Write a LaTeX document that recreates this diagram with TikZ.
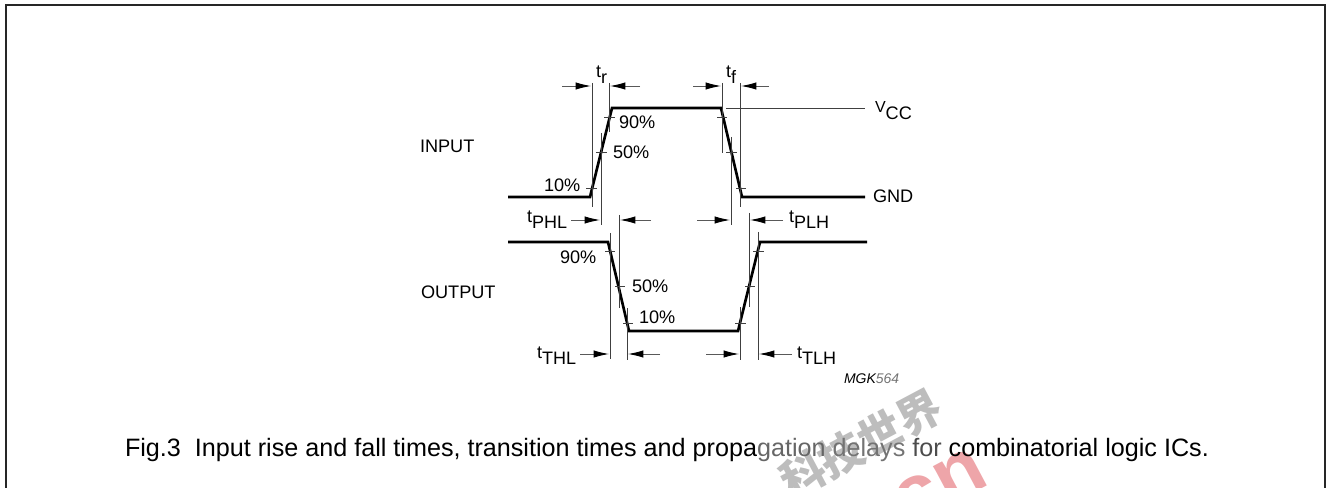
\documentclass[tikz,border=0pt]{standalone}
\usepackage{fontspec}
\setmainfont{Liberation Sans}
\newfontfamily\cjkwm{Noto Sans CJK SC}
\newcommand{\lab}[2]{{\fontsize{13.5pt}{14pt}\selectfont #1\raisebox{-4.5pt}{#2}}}
\usetikzlibrary{arrows.meta}
\definecolor{wmpink}{HTML}{EEA5A9}
\definecolor{wmgray}{HTML}{BDBDBD}
\tikzset{
  x=0.75pt,y=-0.75pt,
  wave/.style={line width=2pt,black,line cap=butt,line join=miter},
  thin line/.style={line width=0.6pt,black!75},
  dim/.style={line width=0.7pt,black!65,-{Latex[length=11.5pt,width=5.5pt,black]}},
  lbl/.style={anchor=base west,inner sep=0pt,outer sep=0pt,font=\fontsize{13.6pt}{14pt}\selectfont,text=black},
  frameline/.style={line width=1.5pt,black!85,line join=miter}
}
\begin{document}
\begin{tikzpicture}
\useasboundingbox (0,0) rectangle (1331,488);
% watermark
\node[rotate=28,text=wmgray,font=\cjkwm\bfseries\fontsize{33pt}{33pt}\selectfont,inner sep=0pt] (wm) at (861,444) {科技世界};
\node[rotate=28,text=wmpink,font=\bfseries\fontsize{60pt}{60pt}\selectfont,inner sep=0pt] (wmcn) at (940,487) {cn};
% frame
\draw[frameline] (6,488) -- (6,5.5) -- (1325,5.5) -- (1325,488);
% coordinates
\coordinate (ia) at (508,197); \coordinate (ib) at (590,197); \coordinate (ic) at (612,108);
\coordinate (id) at (721,108); \coordinate (ie) at (742,197); \coordinate (if) at (865,197);
\coordinate (oa) at (508,242); \coordinate (ob) at (608,242); \coordinate (oc) at (629,331);
\coordinate (od) at (738,331); \coordinate (oe) at (760,242); \coordinate (of) at (867,242);
\draw[wave] (ia) -- (ib) -- (ic) -- (id) -- (ie) -- (if);
\draw[wave] (oa) -- (ob) -- (oc) -- (od) -- (oe) -- (of);
% Vcc line
\coordinate (v1) at (726,108); \coordinate (v2) at (865,108);
\draw[thin line] (v1) -- (v2);
% ticks
\foreach \a/\b/\y in {604/615/117,596/607/152,586/597/188,717/727/117,726/737/152,736/746/188,
  605/615/251,615/625/286,623/633/323,753/764/251,745/755/286,735/746/323}
  \draw[thin line] (\a,\y) -- (\b,\y);
% extension lines
\foreach \x/\a/\b in {592/83/207,609/83/132,601/133/225,722/83/153,740/83/207,731/137/225,
  610/233/359,619/215/308,627/308/360,749/213/307,758/232/360,740/307/360}
  \draw[thin line] (\x,\a) -- (\x,\b);
% dimension arrows
\foreach \a/\b/\y in {562/591/86,640/610/86,693/721/86,769/741/86,
  571/600/220,651/620/220,697/730/220,783/750/220,
  580/609/354,660/628/354,706/739/354,792/759/354}
  \draw[dim] (\a,\y) -- (\b,\y);
% labels
\node[lbl] (tr) at (596,78) {\lab{t}{r}};
\node[lbl] (tf) at (726,78) {\lab{t}{f}};
\node[lbl] (vcc) at (875,113) {{\fontsize{12pt}{12pt}\selectfont V}\raisebox{-5pt}{CC}};
\node[lbl] (gnd) at (873,203) {GND};
\node[lbl] (tphl) at (527,223) {\lab{t}{PHL}};
\node[lbl] (tplh) at (789,223) {\lab{t}{PLH}};
\node[lbl] (tthl) at (537,358) {\lab{t}{THL}};
\node[lbl] (ttlh) at (797,358) {\lab{t}{TLH}};
\node[lbl] (p1) at (544,192) {10\%};
\node[lbl] (p2) at (613,159) {50\%};
\node[lbl] (p3) at (619,129) {90\%};
\node[lbl] (p4) at (560,264) {90\%};
\node[lbl] (p5) at (632,292) {50\%};
\node[lbl] (p6) at (639,323) {10\%};
\node[lbl] (inp) at (420,153) {INPUT};
\node[lbl] (out) at (421,299) {OUTPUT};
\node[lbl,font=\itshape\fontsize{10.5pt}{11pt}\selectfont] (mgk) at (844,383) {MGK\textcolor{black!55}{564}};
\node[lbl,font=\fontsize{18.87pt}{20pt}\selectfont] (cap) at (125,456) {Fig.3\ \ Input rise and fall times, transition times and propa\textcolor{black!60}{gation} \textcolor{black!55}{delays} \textcolor{black!70}{for} combinatorial logic ICs.};
\end{tikzpicture}
\end{document}
